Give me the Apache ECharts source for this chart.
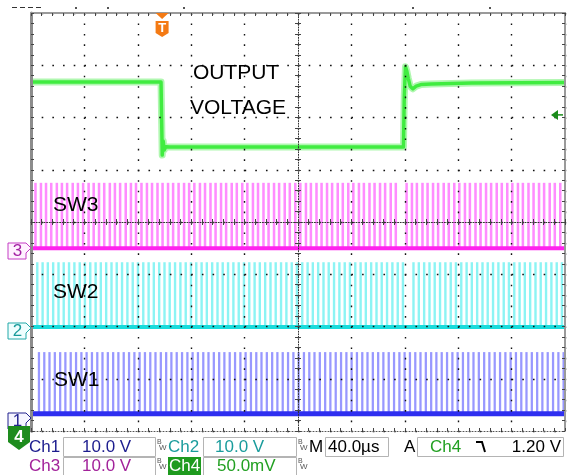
<!DOCTYPE html>
<html><head><meta charset="utf-8">
<script src="https://cdn.jsdelivr.net/npm/echarts@6/dist/echarts.min.js"></script>
<style>html,body{margin:0;padding:0;background:#fff}#c{width:568px;height:475px}</style>
</head><body><div id="c"></div>
<script>
// ---- data (time in µs relative to screen centre, amplitude in divisions) ----
const timeRange = [-200, 200];           // 40 µs/div, 10 div
const divRange = [-4, 4];                // 8 div
const outT = [-200, -102.6, -102.1, -101.7, -101.0, -100.2, -99.0, -96.0, 79.0, 79.6, 80.5, 81.4, 82.6, 84.0, 86.0, 88.5, 92.0, 100.0, 130.0, 200.0];
const outV = [2.68, 2.68, 1.90, 1.28, 1.55, 1.38, 1.44, 1.435, 1.435, 2.40, 2.97, 2.90, 2.75, 2.60, 2.55, 2.60, 2.63, 2.64, 2.66, 2.67];
const sw3Starts = [-197.6,-193.5,-189.7,-185.8,-181.6,-177.8,-173.9,-169.7,-165.8,-161.9,-157.8,-154.0,-150.0,-146.1,-141.9,-138.1,-134.2,-130.0,-126.1,-122.3,-118.2,-114.1,-110.3,-106.2,-102.4,-98.3,-94.5,-90.4,-86.3,-82.5,-78.6,-74.4,-70.6,-66.5,-62.7,-58.6,-54.8,-50.6,-46.8,-42.7,-38.9,-34.7,-30.9,-26.8,-23.0,-18.9,-15.1,-10.9,-7.1,-3.0,0.8,5.0,8.7,12.9,16.7,20.8,24.6,28.8,32.6,36.7,40.5,44.7,48.4,52.6,56.4,60.5,64.3,68.5,72.3,80.4,84.4,88.1,92.3,96.1,100.2,104.0,108.2,112.0,116.1,119.9,124.1,127.8,132.0,135.8,139.9,143.7,147.9,151.7,155.8,159.6,163.8,167.5,171.7,175.5,179.6,183.4,187.6,191.4,195.5];
const sw2Starts = [-196.2,-192.2,-188.3,-184.3,-180.3,-176.4,-172.4,-168.4,-164.4,-160.5,-156.5,-152.5,-148.6,-144.6,-140.6,-136.7,-132.7,-128.7,-124.7,-120.8,-116.8,-112.8,-108.9,-104.9,-100.9,-97.0,-93.0,-89.0,-85.0,-81.1,-77.1,-73.1,-69.2,-65.2,-61.2,-57.3,-53.3,-49.3,-45.3,-41.4,-37.4,-33.4,-29.5,-25.5,-21.5,-17.6,-13.6,-9.6,-5.6,-1.7,2.3,6.3,10.2,14.2,18.2,22.1,26.1,30.1,34.1,38.0,42.0,46.0,49.9,53.9,57.9,61.8,65.8,69.8,73.8,77.7,85.6,89.6,93.6,97.6,101.5,105.5,109.5,113.5,117.4,121.4,125.4,129.3,133.3,137.3,141.2,145.2,149.2,153.2,157.1,161.1,165.1,169.0,173.0,177.0,180.9,184.9,188.9,192.9,196.8];
const sw1Starts = [-194.9,-190.9,-187.0,-183.0,-179.0,-175.1,-171.1,-167.1,-163.1,-159.2,-155.2,-151.2,-147.3,-143.3,-139.3,-135.4,-131.4,-127.4,-123.4,-119.5,-115.5,-111.5,-107.6,-103.6,-99.6,-95.7,-91.7,-87.7,-83.7,-79.8,-75.8,-71.8,-67.9,-63.9,-59.9,-56.0,-52.0,-48.0,-44.0,-40.1,-36.1,-32.1,-28.2,-24.2,-20.2,-16.3,-12.3,-8.3,-4.3,-0.4,3.6,7.6,11.5,15.5,19.5,23.4,27.4,31.4,35.4,39.3,43.3,47.3,51.2,55.2,59.2,63.1,67.1,71.1,75.1,79.0,83.0,87.0,90.9,94.9,98.9,102.8,106.8,110.8,114.8,118.7,122.7,126.7,130.6,134.6,138.6,142.5,146.5,150.5,154.5,158.4,162.4,166.4,170.3,174.3,178.3,182.2,186.2,190.2,194.2,198.1];
const swBase = [-3.67, -2.01, -0.50];     // SW1, SW2, SW3 low level
const swTop = [-2.49, -0.77, 0.75];       // SW1, SW2, SW3 high level
const pulseWidth = [1.7, 1.8, 1.9];       // µs
const chMarkerLevel = [-3.75, -2.03, -0.50]; // channel 1,2,3 reference markers
const triggerTime = -101.8;
const triggerLevel = 2.05;
const traceLabels = ['OUTPUT', 'VOLTAGE', 'SW3', 'SW2', 'SW1'];
const statusRow1 = ['Ch1', '10.0 V', 'Ch2', '10.0 V', 'M', '40.0µs', 'A', 'Ch4', '1.20 V'];
const statusRow2 = ['Ch3', '10.0 V', 'Ch4', '50.0mV'];

const FONT = '"Liberation Sans", Arial, Helvetica, sans-serif';
const chart = echarts.init(document.getElementById('c'), null, {renderer: 'canvas'});

const tickCol = '#444';
function axisCommon(min, max, interval) {
  return {
    type: 'value', min, max, interval, z: 5,
    axisLabel: {show: false}, splitLine: {show: false},
    axisTick: {show: true, inside: true, length: 3, lineStyle: {color: tickCol}},
    minorTick: {show: true, splitNumber: 5, length: 3, lineStyle: {color: tickCol}},
    minorSplitLine: {show: false}
  };
}
const xa = () => axisCommon(timeRange[0], timeRange[1], 40);
const ya = () => axisCommon(divRange[0], divRange[1], 1);

function pulseSeries(starts, base, top, w, fill) {
  return {
    type: 'custom', xAxisIndex: 0, yAxisIndex: 0, z: 2, clip: true, silent: true,
    data: starts.map(s => [s, base, top]),
    encode: {x: 0, y: [1, 2]},
    renderItem: (params, api) => {
      const s = api.value(0);
      const p0 = api.coord([s, api.value(1)]);
      const p1 = api.coord([s + w, api.value(2)]);
      return {type: 'rect', shape: {x: p0[0], y: p1[1], width: Math.max(1, p1[0] - p0[0]), height: p0[1] - p1[1]}, style: {fill}};
    }
  };
}
function baseSeries(v, color, width) {
  return {type: 'line', xAxisIndex: 0, yAxisIndex: 0, z: 3, showSymbol: false, silent: true,
    data: [[timeRange[0], v], [timeRange[1], v]], lineStyle: {color, width}};
}
const outData = outT.map((t, i) => [t, outV[i]]);

chart.setOption({
  animation: false,
  backgroundColor: '#fff',
  grid: {left: 31, top: 13, width: 534, height: 418, show: false},
  xAxis: [
    Object.assign(xa(), {position: 'bottom', axisLine: {onZero: false, lineStyle: {color: '#555', type: [1, 2], width: 1}},
      splitLine: {show: true, lineStyle: {color: '#111', type: [1.6, 8.85], width: 1.4}}}),
    Object.assign(xa(), {position: 'top', axisLine: {onZero: false, lineStyle: {color: '#9a9a9a', width: 2}}}),
    Object.assign(xa(), {position: 'bottom', offset: -209, axisLine: {onZero: false, lineStyle: {color: '#333', type: [1, 1.6], width: 1}}}),
    Object.assign(xa(), {position: 'top', offset: -209, axisLine: {show: false, onZero: false}})
  ],
  yAxis: [
    Object.assign(ya(), {position: 'left', axisLine: {onZero: false, lineStyle: {color: '#8c8c8c', width: 3}},
      splitLine: {show: true, lineStyle: {color: '#111', type: [1.6, 9.08], width: 1.4}}}),
    Object.assign(ya(), {position: 'right', axisLine: {onZero: false, lineStyle: {color: '#9a9a9a', width: 2}}}),
    Object.assign(ya(), {position: 'left', offset: -267, axisLine: {onZero: false, lineStyle: {color: '#333', type: [1, 1.6], width: 1}}}),
    Object.assign(ya(), {position: 'right', offset: -267, axisLine: {show: false, onZero: false}})
  ],
  series: [
    pulseSeries(sw3Starts, swBase[2], swTop[2], pulseWidth[2], '#ff8cff'),
    pulseSeries(sw2Starts, swBase[1], swTop[1], pulseWidth[1], '#8cf4f4'),
    pulseSeries(sw1Starts, swBase[0], swTop[0], pulseWidth[0], '#9898ff'),
    baseSeries(swBase[2], '#ff22ee', 4),
    baseSeries(swBase[1], '#1adcdc', 4),
    baseSeries(swBase[0], '#2e2ef0', 5),
    {type: 'line', xAxisIndex: 0, yAxisIndex: 0, z: 3, showSymbol: false, silent: true, data: outData,
      lineStyle: {color: '#b0f7b0', width: 7, join: 'round'}},
    {type: 'line', xAxisIndex: 0, yAxisIndex: 0, z: 4, showSymbol: false, silent: true, data: outData,
      lineStyle: {color: '#40ec40', width: 3.5, join: 'round'}}
  ]
});

const px = (t, v) => chart.convertToPixel({xAxisIndex: 0, yAxisIndex: 0}, [t, v]);
const g = [];
function txt(text, x, y, size, fill, opts) {
  g.push(Object.assign({type: 'text', z: 20, style: Object.assign({text, x, y, fill, font: size + 'px ' + FONT, verticalAlign: 'middle'}, opts || {})}));
}
function box(x, y, w, h) {
  g.push({type: 'rect', z: 15, shape: {x: x + 0.5, y: y + 0.5, width: w, height: h}, style: {fill: '#fff', stroke: '#b4b4b4', lineWidth: 1}});
}
function tag(level, num, stroke, fill, color) {
  const b = Math.round(px(0, level)[1]);
  g.push({type: 'polygon', z: 16, shape: {points: [[8, b - 5], [26, b - 5], [31, b], [26, b + 5], [26, b + 11], [8, b + 11]]},
    style: {fill, stroke, lineWidth: 1}});
  txt(num, 17.5, b + 3, 17, color, {align: 'center'});
}

// channel reference markers
tag(chMarkerLevel[2], '3', '#c43cc4', '#fff2ff', '#a21ea2');
tag(chMarkerLevel[1], '2', '#22a8a8', '#effefe', '#169a9a');
tag(chMarkerLevel[0], '1', '#23238e', '#f5f5ff', '#23238e');

// trigger position marker
const tx = px(triggerTime, 0)[0];
g.push({type: 'polygon', z: 17, shape: {points: [[tx - 6.5, 13], [tx + 6.5, 13], [tx, 19]]}, style: {fill: '#f47a14'}});
g.push({type: 'polygon', z: 17, shape: {points: [[tx - 6.5, 21], [tx + 6.5, 21], [tx + 6.5, 33], [tx, 37], [tx - 6.5, 33]]}, style: {fill: '#f47a14'}});
txt('T', tx, 28, 13, '#fff', {align: 'center', font: 'bold 13px ' + FONT});

// trigger level arrow (Ch4)
const ty = px(0, triggerLevel)[1];
g.push({type: 'polygon', z: 17, shape: {points: [[551, ty], [558, ty - 5], [558, ty + 5]]}, style: {fill: '#1a8c1a'}});
g.push({type: 'line', z: 17, shape: {x1: 557, y1: ty, x2: 563, y2: ty}, style: {stroke: '#1a8c1a', lineWidth: 1.5}});

// top record bar marks
g.push({type: 'line', z: 17, shape: {x1: 12, y1: 7.5, x2: 42, y2: 7.5}, style: {stroke: '#333', lineWidth: 1, lineDash: [5, 3]}});
[75, 107, 183, 412, 489].forEach(x => g.push({type: 'rect', z: 17, shape: {x: x, y: 7, width: 2, height: 2}, style: {fill: '#555'}}));

// trace labels
txt(traceLabels[0], 193, 73, 21, '#000');
txt(traceLabels[1], 190, 108, 21, '#000');
txt(traceLabels[2], 53, 205, 21, '#000');
txt(traceLabels[3], 53, 292, 21, '#000');
txt(traceLabels[4], 54, 380, 21, '#000');

// status bar
g.push({type: 'rect', z: 14, shape: {x: 0, y: 433, width: 568, height: 42}, style: {fill: '#fff'}});
g.push({type: 'polygon', z: 17, shape: {points: [[8, 426], [30, 426], [30, 442], [19, 450], [8, 442]]}, style: {fill: '#1e8c1e'}});
txt('4', 19, 437, 17, '#fff', {align: 'center', font: 'bold 17px ' + FONT});
box(63, 437, 92, 19); box(203, 437, 93, 19); box(325, 437, 63, 19); box(417, 437, 146, 19);
box(63, 457, 92, 18); box(203, 457, 93, 18);
const c1 = '#1c1c8e', c2 = '#1a9c9c', c3 = '#a2229a', c4 = '#22a022';
txt(statusRow1[0], 29, 447, 17, c1);
txt(statusRow1[1], 82, 447, 17, c1);
txt(statusRow1[2], 168, 447, 17, c2);
txt(statusRow1[3], 215, 447, 17, c2);
txt(statusRow1[4], 309, 447, 17, '#000');
txt(statusRow1[5], 328, 447, 17, '#000');
txt(statusRow1[6], 404, 447, 17, '#000');
txt(statusRow1[7], 430, 447, 17, c4);
txt(statusRow1[8], 561, 447, 17, '#000', {align: 'right'});
g.push({type: 'polyline', z: 17, shape: {points: [[476, 442], [482, 442], [485, 452]]}, style: {stroke: '#000', lineWidth: 2, fill: null}});
txt(statusRow2[0], 29, 466, 17, c3);
txt(statusRow2[1], 82, 466, 17, c3);
g.push({type: 'rect', z: 15, shape: {x: 168, y: 457, width: 33, height: 18}, style: {fill: '#1e9a1e'}});
txt(statusRow2[2], 169, 466, 17, '#fff');
txt(statusRow2[3], 217, 466, 17, c4);
[[157, 442], [298, 442], [157, 461], [298, 461]].forEach(p => {
  txt('B', p[0], p[1], 7, '#555');
  txt('W', p[0] + 2, p[1] + 6, 8, '#555');
});

chart.setOption({graphic: g});
</script></body></html>
